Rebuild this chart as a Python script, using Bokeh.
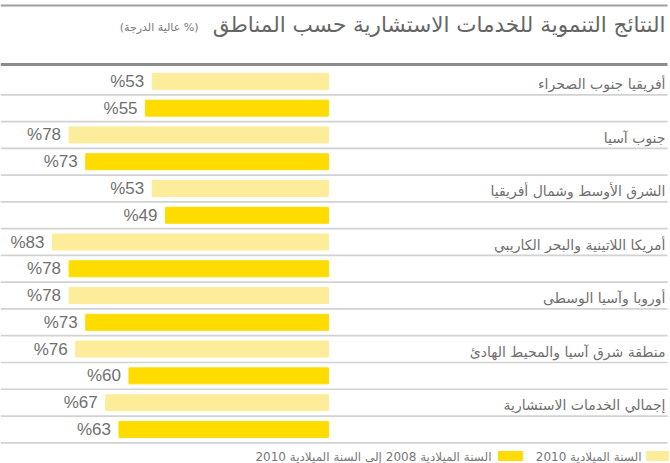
from bokeh.plotting import figure
from bokeh.models import Range1d
from bokeh.core.properties import value
from bokeh.embed import file_html
from bokeh.resources import INLINE

# ---- data ----
title_text = "النتائج التنموية للخدمات الاستشارية حسب المناطق"
subtitle_text = "\u200f(% عالية الدرجة)\u200f"
regions = [
    "أفريقيا جنوب الصحراء",
    "جنوب آسيا",
    "الشرق الأوسط وشمال أفريقيا",
    "أمريكا اللاتينية والبحر الكاريبي",
    "أوروبا وآسيا الوسطى",
    "منطقة شرق آسيا والمحيط الهادئ",
    "إجمالي الخدمات الاستشارية",
]
values_2010 = [53, 78, 53, 83, 78, 76, 67]
values_2008_2010 = [55, 73, 49, 78, 73, 60, 63]
legend_labels = ["السنة الميلادية 2010", "السنة الميلادية 2008 إلى السنة الميلادية 2010"]

# ---- layout helpers (pixel -> data) ----
W, H = 670, 463
X0_PX, PX_PER_UNIT = 328.0, 3.326
ROW0_PX, ROW_H = 80.9, 26.77

def px2x(px):
    return (X0_PX - px) / PX_PER_UNIT

def py2y(py):
    return (py - ROW0_PX) / ROW_H

LIGHT = "#FDEC9A"
GOLD = "#FFDC00"
TXT = "#707070"
AR_FONT = "DejaVu Sans"
NUM_FONT = "Liberation Sans"

p = figure(width=W, height=H, x_range=Range1d(px2x(0), px2x(W)),
           y_range=Range1d(py2y(H), py2y(0)), min_border=0,
           min_border_left=0, min_border_right=0, min_border_top=0, min_border_bottom=0,
           outline_line_color=None, toolbar_location=None, output_backend="svg")
p.axis.visible = False
p.grid.visible = False

n = len(regions)
rows_light = [2 * i for i in range(n)]
rows_gold = [2 * i + 1 for i in range(n)]

# separator lines
xl, xr = px2x(0), px2x(667)
p.segment(x0=xl, x1=xr, y0=py2y(5), y1=py2y(5), line_color="#a0a0a0", line_width=2)
p.segment(x0=xl, x1=xr, y0=py2y(64), y1=py2y(64), line_color="#8c8c8c", line_width=3)
seps = [k + 0.5 for k in range(2 * n)]
p.segment(x0=[xl] * len(seps), x1=[xr] * len(seps), y0=seps, y1=seps,
          line_color="#d2d2d2", line_width=1.7)

# bars
bh = 16 / ROW_H
p.hbar(y=rows_light, left=0, right=values_2010, height=bh, color=LIGHT)
p.hbar(y=rows_gold, left=0, right=values_2008_2010, height=bh, color=GOLD)

# value labels
gap = 8 / PX_PER_UNIT
p.text(x=[v + gap for v in values_2010], y=rows_light, text=[f"%{v}" for v in values_2010],
       text_align="right", text_baseline="middle", text_font=value(NUM_FONT),
       text_font_size="17px", text_color=TXT)
p.text(x=[v + gap for v in values_2008_2010], y=rows_gold, text=[f"%{v}" for v in values_2008_2010],
       text_align="right", text_baseline="middle", text_font=value(NUM_FONT),
       text_font_size="17px", text_color=TXT)

# region labels
p.text(x=[px2x(665)] * n, y=[r + 0.1 for r in rows_light], text=regions,
       text_align="right", text_baseline="middle", text_font=value(AR_FONT),
       text_font_size="14px", text_color=TXT)

# title
p.text(x=[px2x(665)], y=[py2y(24)], text=[title_text], text_align="right",
       text_baseline="middle", text_font=value(AR_FONT), text_font_size="21.5px",
       text_color="#666666")
p.text(x=[px2x(198)], y=[py2y(27)], text=[subtitle_text], text_align="right",
       text_baseline="middle", text_font=value(AR_FONT), text_font_size="11px",
       text_color="#777777")

# legend
sw_y0, sw_y1 = py2y(460), py2y(451)
p.quad(left=[px2x(646), px2x(498)], right=[px2x(668), px2x(522)],
       bottom=[sw_y0] * 2, top=[sw_y1] * 2, color=[LIGHT, GOLD])
p.text(x=[px2x(641), px2x(491)], y=[py2y(456)] * 2, text=legend_labels,
       text_align="right", text_baseline="middle", text_font=value(AR_FONT),
       text_font_size="12px", text_color="#777777")

open("out.html", "w").write(file_html(p, INLINE))
